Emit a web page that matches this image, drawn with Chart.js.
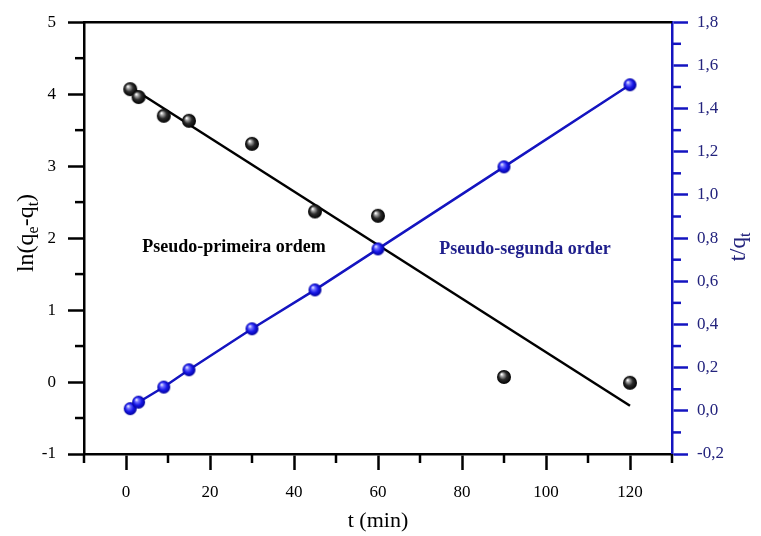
<!DOCTYPE html>
<html><head><meta charset="utf-8">
<script src="https://cdn.jsdelivr.net/npm/chart.js@4.4.0/dist/chart.umd.min.js"></script>
<style>html,body{margin:0;padding:0;background:#fff;}#wrap{width:761px;height:536px;}</style>
</head><body><div id="wrap"><canvas id="c" width="761" height="536"></canvas></div>
<script>
// ---- data ----
const timesMin = [1, 3, 9, 15, 30, 45, 60, 90, 120];
const lnQeQt   = [4.07, 3.96, 3.70, 3.63, 3.31, 2.37, 2.31, 0.07, -0.01];
const tOverQt  = [0.01, 0.04, 0.11, 0.19, 0.38, 0.56, 0.75, 1.13, 1.51];
const fitFirstT = [1, 120];
const fitFirstY = [4.10, -0.33];
// ---- ticks ----
const xTicks = [0, 20, 40, 60, 80, 100, 120];
const xMinor = [-10, 10, 30, 50, 70, 90, 110, 130];
const yLeftTicks = [-1, 0, 1, 2, 3, 4, 5];
const yLeftMinor = [-0.5, 0.5, 1.5, 2.5, 3.5, 4.5];
const yRightTicks = [-0.2, 0, 0.2, 0.4, 0.6, 0.8, 1.0, 1.2, 1.4, 1.6, 1.8];
const yRightMinor = [-0.1, 0.1, 0.3, 0.5, 0.7, 0.9, 1.1, 1.3, 1.5, 1.7];
// ---- texts ----
const xTitle = [{t:'t (min)'}];
const yLeftTitle = [{t:'ln(q'},{t:'e',sub:true},{t:'-q'},{t:'t',sub:true},{t:')'}];
const yRightTitle = [{t:'t/q'},{t:'t',sub:true}];
const notes = [
  {text:'Pseudo-primeira ordem', x:25.7, y:1.87, axis:'y', color:'#000000'},
  {text:'Pseudo-segunda order', x:95, y:0.75, axis:'y2', color:'#1f1f8c'}
];

const SERIF = "'Liberation Serif','Times New Roman',serif";
const BLUE = '#1414c0';
const NAVY = '#23237d';

function sphere(r, stops){
  const c = document.createElement('canvas');
  const s = Math.ceil(2*r+2);
  c.width = s; c.height = s;
  const g = c.getContext('2d');
  const cx = s/2, cy = s/2;
  const grad = g.createRadialGradient(cx - r*0.35, cy - r*0.4, r*0.05, cx, cy, r);
  stops.forEach(([o,col]) => grad.addColorStop(o,col));
  g.fillStyle = grad;
  g.beginPath(); g.arc(cx, cy, r, 0, Math.PI*2); g.fill();
  return c;
}
const blackBall = sphere(7, [[0,'#ffffff'],[0.22,'#a0a0a0'],[0.55,'#2c2c2c'],[1,'#000000']]);
const blueBall = sphere(6.5, [[0,'#eeeeff'],[0.25,'#7070ff'],[0.6,'#1818e8'],[1,'#00009a']]);

function drawRich(ctx, parts, x, y, rot, color, size){
  const main = size + 'px ' + SERIF, subf = Math.round(size*0.68) + 'px ' + SERIF;
  ctx.save();
  ctx.translate(x, y); ctx.rotate(rot);
  ctx.fillStyle = color; ctx.textBaseline = 'middle'; ctx.textAlign = 'left';
  let w = 0;
  parts.forEach(p => { ctx.font = p.sub ? subf : main; w += ctx.measureText(p.t).width; });
  let cx = -w/2;
  parts.forEach(p => {
    ctx.font = p.sub ? subf : main;
    ctx.fillText(p.t, cx, p.sub ? size*0.3 : 0);
    cx += ctx.measureText(p.t).width;
  });
  ctx.restore();
}

const decorPlugin = {
  id: 'decor',
  afterDraw(chart){
    const ctx = chart.ctx, a = chart.chartArea;
    const sx = chart.scales.x, sy = chart.scales.y, sy2 = chart.scales.y2;
    ctx.save();
    ctx.strokeStyle = '#000'; ctx.lineWidth = 2.5;
    ctx.beginPath(); ctx.moveTo(a.left, a.top); ctx.lineTo(a.right, a.top); ctx.stroke();
    ctx.lineWidth = 2.5;
    ctx.strokeStyle = '#000';
    xMinor.forEach(v => { const p = sx.getPixelForValue(v); ctx.beginPath(); ctx.moveTo(p, a.bottom); ctx.lineTo(p, a.bottom + 9); ctx.stroke(); });
    yLeftMinor.forEach(v => { const p = sy.getPixelForValue(v); ctx.beginPath(); ctx.moveTo(a.left, p); ctx.lineTo(a.left - 9, p); ctx.stroke(); });
    ctx.strokeStyle = BLUE;
    yRightMinor.forEach(v => { const p = sy2.getPixelForValue(v); ctx.beginPath(); ctx.moveTo(a.right, p); ctx.lineTo(a.right + 9, p); ctx.stroke(); });
    ctx.restore();
    drawRich(ctx, xTitle, (a.left + a.right)/2, 521, 0, '#000', 22);
    drawRich(ctx, yLeftTitle, 27, 233, -Math.PI/2, '#000', 24);
    drawRich(ctx, yRightTitle, 739, 247, -Math.PI/2, NAVY, 23);
    ctx.save();
    ctx.font = 'bold 18px ' + SERIF; ctx.textAlign = 'center'; ctx.textBaseline = 'middle';
    notes.forEach(n => {
      ctx.fillStyle = n.color;
      ctx.fillText(n.text, sx.getPixelForValue(n.x), chart.scales[n.axis].getPixelForValue(n.y));
    });
    ctx.restore();
  }
};

const tickFont = {family: SERIF, size: 17};

new Chart(document.getElementById('c'), {
  type: 'scatter',
  data: {
    datasets: [
      {
        label: 'first order points',
        data: timesMin.map((t,i) => ({x:t, y:lnQeQt[i]})),
        yAxisID: 'y', showLine: false,
        pointStyle: blackBall, pointRadius: 7, pointHoverRadius: 7,
        order: 0
      },
      {
        label: 'second order',
        data: timesMin.map((t,i) => ({x:t, y:tOverQt[i]})),
        yAxisID: 'y2', showLine: true,
        borderColor: BLUE, borderWidth: 2.5,
        pointStyle: blueBall, pointRadius: 6.5, pointHoverRadius: 6.5,
        order: 1
      },
      {
        label: 'first order fit',
        data: fitFirstT.map((t,i) => ({x:t, y:fitFirstY[i]})),
        yAxisID: 'y', showLine: true,
        borderColor: '#000', borderWidth: 2.5, pointRadius: 0,
        order: 2
      }
    ]
  },
  options: {
    responsive: false, animation: false, devicePixelRatio: 1,
    layout: {padding: {top: 17, left: 0, right: 0, bottom: 0}},
    plugins: {legend: {display: false}, tooltip: {enabled: false}, title: {display: false}},
    scales: {
      x: {
        type: 'linear', position: 'bottom', min: -10, max: 130,
        afterBuildTicks: s => { s.ticks = xTicks.map(v => ({value: v})); },
        afterFit: s => { s.height = 82; },
        ticks: {font: tickFont, color: '#000', padding: 12, maxRotation: 0, autoSkip: false},
        grid: {display: true, drawOnChartArea: false, drawTicks: true, tickLength: 16, tickWidth: 2.5, tickColor: '#000'},
        border: {display: true, color: '#000', width: 2.5}
      },
      y: {
        type: 'linear', position: 'left', min: -1, max: 5,
        afterBuildTicks: s => { s.ticks = yLeftTicks.map(v => ({value: v})); },
        afterFit: s => { s.width = 84; },
        ticks: {font: tickFont, color: '#000', padding: 12, autoSkip: false},
        grid: {display: true, drawOnChartArea: false, drawTicks: true, tickLength: 16, tickWidth: 2.5, tickColor: '#000'},
        border: {display: true, color: '#000', width: 2.5}
      },
      y2: {
        type: 'linear', position: 'right', min: -0.2, max: 1.8,
        afterBuildTicks: s => { s.ticks = yRightTicks.map(v => ({value: v})); },
        afterFit: s => { s.width = 89; },
        ticks: {font: tickFont, color: NAVY, padding: 9, autoSkip: false,
          callback: v => (Math.round(v*10)/10).toFixed(1).replace('.', ',')},
        grid: {display: true, drawOnChartArea: false, drawTicks: true, tickLength: 16, tickWidth: 2.5, tickColor: BLUE},
        border: {display: true, color: BLUE, width: 2.5}
      }
    }
  },
  plugins: [decorPlugin]
});
</script>
</body></html>
